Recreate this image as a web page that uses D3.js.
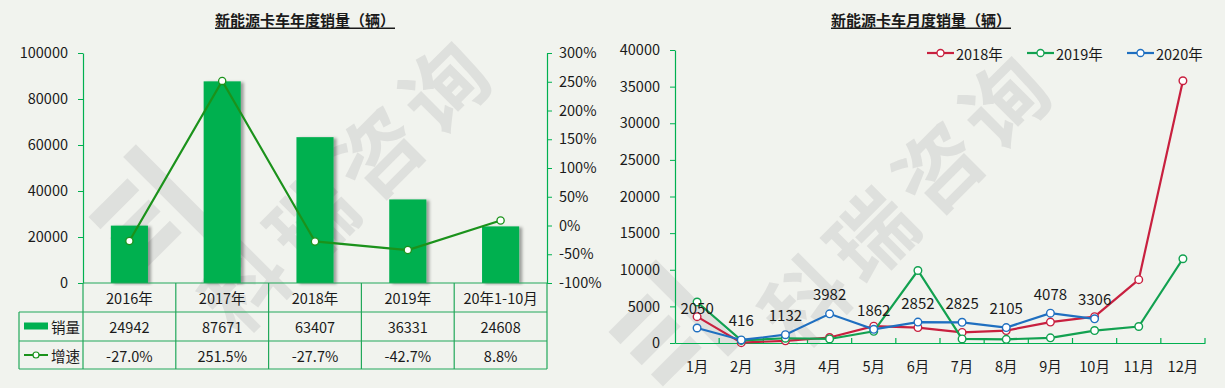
<!DOCTYPE html>
<html>
<head>
<meta charset="utf-8">
<script src="https://cdn.jsdelivr.net/npm/d3@7"></script>
<style>
  body { margin: 0; background: #f1f3ee; }
  svg { display: block; font-family: "Noto Sans CJK SC", "Noto Sans", sans-serif; }
</style>
</head>
<body>
<div id="chart"></div>
<script>
// yearly chart data
var years = ["2016年", "2017年", "2018年", "2019年", "20年1-10月"];
var sales = [24942, 87671, 63407, 36331, 24608];
var growth = [-27.0, 251.5, -27.7, -42.7, 8.8];
var salesTicks = [0, 20000, 40000, 60000, 80000, 100000];
var growthTicks = [-100, -50, 0, 50, 100, 150, 200, 250, 300];

// monthly chart data
var months = ["1月", "2月", "3月", "4月", "5月", "6月", "7月", "8月", "9月", "10月", "11月", "12月"];
var sales2018 = [3600, 50, 300, 750, 2300, 2100, 1450, 1700, 2850, 3600, 8650, 35800];
var sales2019 = [5600, 350, 650, 550, 1600, 9900, 550, 500, 700, 1700, 2250, 11500];
var sales2020 = [2050, 416, 1132, 3982, 1862, 2852, 2825, 2105, 4078, 3306];
var monthTicks = [0, 5000, 10000, 15000, 20000, 25000, 30000, 35000, 40000];
var seriesNames = ["2018年", "2019年", "2020年"];

var W = 1225, H = 388;
var green = "#00b050";
var border = "#22a85a";
var lineGreen = "#1b921b";
var textColor = "#1a1a1a";
var colors = ["#c8203f", "#12a150", "#1f6fc0"];

var svg = d3.select("#chart").append("svg")
	.attr("width", W)
	.attr("height", H);

svg.append("rect").attr("width", W).attr("height", H).attr("fill", "#f1f3ee");

// shadow for the bars
var defs = svg.append("defs");
defs.append("filter").attr("id", "barShadow")
	.attr("x", "-20%").attr("y", "-5%").attr("width", "150%").attr("height", "110%")
	.append("feDropShadow")
	.attr("dx", 3).attr("dy", 1).attr("stdDeviation", 1.5)
	.attr("flood-color", "#000").attr("flood-opacity", 0.35);

// watermark behind everything: a rough logo plus the company name
function watermark(cx, cy, lx, ly) {
	var logo = svg.append("g")
		.attr("transform", "translate(" + lx + "," + ly + ") rotate(-45)")
		.attr("fill", "#c4c4c4")
		.attr("opacity", 0.4);
	[-42, -12, 18].forEach(function (dy) {
		logo.append("rect").attr("x", -45).attr("y", dy).attr("width", 55).attr("height", 17);
	});
	logo.append("rect").attr("x", 22).attr("y", -60).attr("width", 18).attr("height", 120);

	svg.append("text")
		.attr("transform", "translate(" + cx + "," + cy + ") rotate(-45)")
		.attr("text-anchor", "middle")
		.attr("dominant-baseline", "central")
		.attr("font-size", "84px")
		.attr("font-weight", "bold")
		.attr("letter-spacing", "10px")
		.attr("fill", "#c4c4c4")
		.attr("opacity", 0.4)
		.text("科瑞咨询");
}
watermark(345, 180, 150, 215);
watermark(905, 195, 670, 330);

// ---------- left: yearly sales ----------
var left = { x0: 83, x1: 547, top: 53, bottom: 283 };
var rowY = [283, 312, 341, 369];

var xYear = d3.scaleBand()
	.domain(years)
	.range([left.x0, left.x1])
	.paddingInner(0.6)
	.paddingOuter(0.3);

var ySales = d3.scaleLinear().domain([0, 100000]).range([left.bottom, left.top]);
var yGrowth = d3.scaleLinear().domain([-100, 300]).range([left.bottom, left.top]);

svg.append("text")
	.attr("x", 305).attr("y", 19)
	.attr("text-anchor", "middle")
	.attr("dominant-baseline", "central")
	.attr("font-size", "15px")
	.attr("font-weight", "bold")
	.attr("text-decoration", "underline")
	.attr("fill", textColor)
	.text("新能源卡车年度销量（辆）");

var axL = svg.append("g")
	.attr("transform", "translate(" + left.x0 + ",0)")
	.call(d3.axisLeft(ySales).tickValues(salesTicks).tickSize(5).tickSizeOuter(0).tickPadding(10).tickFormat(d3.format("d")));

var axR = svg.append("g")
	.attr("transform", "translate(" + left.x1 + ",0)")
	.call(d3.axisRight(yGrowth).tickValues(growthTicks).tickSize(5).tickSizeOuter(0).tickPadding(7).tickFormat(d => d + "%"));

[axL, axR].forEach(function (g) {
	g.select(".domain").attr("stroke", green).attr("stroke-width", 1.2);
	g.selectAll(".tick line").attr("stroke", green);
	g.selectAll(".tick text").attr("font-size", "14.5px").attr("fill", textColor)
		.attr("font-family", "'Noto Sans CJK SC', sans-serif");
});

// bars
svg.append("g").selectAll("rect")
	.data(sales)
	.join("rect")
	.attr("x", (d, i) => xYear(years[i]))
	.attr("y", d => ySales(d))
	.attr("width", xYear.bandwidth())
	.attr("height", d => ySales(0) - ySales(d))
	.attr("fill", green)
	.attr("filter", "url(#barShadow)");

// growth line
var growthLine = d3.line()
	.x((d, i) => xYear(years[i]) + xYear.bandwidth() / 2)
	.y(d => yGrowth(d));

svg.append("path")
	.datum(growth)
	.attr("d", growthLine)
	.attr("fill", "none")
	.attr("stroke", lineGreen)
	.attr("stroke-width", 2.2);

svg.append("g").selectAll("circle")
	.data(growth)
	.join("circle")
	.attr("cx", (d, i) => xYear(years[i]) + xYear.bandwidth() / 2)
	.attr("cy", d => yGrowth(d))
	.attr("r", 3.6)
	.attr("fill", "#fff")
	.attr("stroke", lineGreen)
	.attr("stroke-width", 1.3);

// data table under the bars
var table = svg.append("g");
var step = xYear.step();
var cols = years.map((y, i) => left.x0 + i * step);
cols.push(left.x1);

function hline(x1, x2, y) {
	table.append("line").attr("x1", x1).attr("x2", x2).attr("y1", y).attr("y2", y)
		.attr("stroke", border).attr("stroke-width", 1.2);
}
function vline(x, y1, y2) {
	table.append("line").attr("x1", x).attr("x2", x).attr("y1", y1).attr("y2", y2)
		.attr("stroke", border).attr("stroke-width", 1.2);
}
hline(left.x0, left.x1, rowY[0]);
hline(19, left.x1, rowY[1]);
hline(19, left.x1, rowY[2]);
hline(19, left.x1, rowY[3]);
cols.forEach(x => vline(x, rowY[0], rowY[3]));
vline(19, rowY[1], rowY[3]);

function cellText(x, y, s) {
	table.append("text")
		.attr("x", x).attr("y", y)
		.attr("text-anchor", "middle")
		.attr("dominant-baseline", "central")
		.attr("font-size", "14.5px")
		.attr("fill", textColor)
		.text(s);
}
var rowMid = [(rowY[0] + rowY[1]) / 2, (rowY[1] + rowY[2]) / 2, (rowY[2] + rowY[3]) / 2];
years.forEach(function (y, i) {
	var cx = xYear(y) + xYear.bandwidth() / 2;
	cellText(cx, rowMid[0], y);
	cellText(cx, rowMid[1], sales[i]);
	cellText(cx, rowMid[2], growth[i].toFixed(1) + "%");
});

// legend keys in the table
table.append("rect")
	.attr("x", 24).attr("y", rowMid[1] - 4)
	.attr("width", 24).attr("height", 7)
	.attr("fill", green);
table.append("line")
	.attr("x1", 24).attr("x2", 48).attr("y1", rowMid[2]).attr("y2", rowMid[2])
	.attr("stroke", lineGreen).attr("stroke-width", 2);
table.append("circle")
	.attr("cx", 36).attr("cy", rowMid[2]).attr("r", 3)
	.attr("fill", "#fff").attr("stroke", lineGreen).attr("stroke-width", 1.2);
[["销量", rowMid[1]], ["增速", rowMid[2]]].forEach(function (d) {
	table.append("text")
		.attr("x", 51).attr("y", d[1])
		.attr("dominant-baseline", "central")
		.attr("font-size", "14.5px")
		.attr("fill", textColor)
		.text(d[0]);
});

// ---------- right: monthly sales ----------
var right = { x0: 675, x1: 1205, top: 50, bottom: 343 };

var xMonth = d3.scaleBand().domain(months).range([right.x0, right.x1]);
var yMonth = d3.scaleLinear().domain([0, 40000]).range([right.bottom, right.top]);
var mx = m => xMonth(m) + xMonth.bandwidth() / 2;

svg.append("text")
	.attr("x", 921).attr("y", 19)
	.attr("text-anchor", "middle")
	.attr("dominant-baseline", "central")
	.attr("font-size", "15px")
	.attr("font-weight", "bold")
	.attr("text-decoration", "underline")
	.attr("fill", textColor)
	.text("新能源卡车月度销量（辆）");

var ayM = svg.append("g")
	.attr("transform", "translate(" + right.x0 + ",0)")
	.call(d3.axisLeft(yMonth).tickValues(monthTicks).tickSize(5).tickSizeOuter(0).tickPadding(10).tickFormat(d3.format("d")));

var axM = svg.append("g")
	.attr("transform", "translate(0," + right.bottom + ")")
	.call(d3.axisBottom(xMonth).tickSize(0).tickSizeOuter(0).tickPadding(19));

[ayM, axM].forEach(function (g) {
	g.select(".domain").attr("stroke", green).attr("stroke-width", 1.2);
	g.selectAll(".tick line").attr("stroke", green);
	g.selectAll(".tick text").attr("font-size", "14.5px").attr("fill", textColor)
		.attr("font-family", "'Noto Sans CJK SC', sans-serif");
});

// category boundary ticks, pointing up
var bounds = months.slice(1).map(m => xMonth(m));
bounds.push(right.x1);
svg.append("g").selectAll("line")
	.data(bounds)
	.join("line")
	.attr("x1", d => d).attr("x2", d => d)
	.attr("y1", right.bottom).attr("y2", right.bottom - 5)
	.attr("stroke", green).attr("stroke-width", 1.2);

var monthLine = d3.line()
	.x((d, i) => mx(months[i]))
	.y(d => yMonth(d));

[sales2018, sales2019, sales2020].forEach(function (series, k) {
	var g = svg.append("g");
	g.append("path")
		.datum(series)
		.attr("d", monthLine)
		.attr("fill", "none")
		.attr("stroke", colors[k])
		.attr("stroke-width", 2.2);
	g.selectAll("circle")
		.data(series)
		.join("circle")
		.attr("cx", (d, i) => mx(months[i]))
		.attr("cy", d => yMonth(d))
		.attr("r", 3.8)
		.attr("fill", "#fff")
		.attr("stroke", colors[k])
		.attr("stroke-width", 1.4);
});

// value labels for 2020
svg.append("g").selectAll("text")
	.data(sales2020)
	.join("text")
	.attr("x", (d, i) => mx(months[i]))
	.attr("y", d => yMonth(d) - 20)
	.attr("text-anchor", "middle")
	.attr("dominant-baseline", "central")
	.attr("font-size", "15px")
	.attr("fill", textColor)
	.text(d => d);

// legend
var legendX = [927, 1027, 1127];
seriesNames.forEach(function (name, k) {
	var g = svg.append("g").attr("transform", "translate(" + legendX[k] + ",53)");
	g.append("line").attr("x1", 0).attr("x2", 27).attr("y1", 0).attr("y2", 0)
		.attr("stroke", colors[k]).attr("stroke-width", 2.2);
	g.append("circle").attr("cx", 13.5).attr("cy", 0).attr("r", 3.5)
		.attr("fill", "#fff").attr("stroke", colors[k]).attr("stroke-width", 1.3);
	g.append("text").attr("x", 29).attr("y", 0)
		.attr("dominant-baseline", "central")
		.attr("font-size", "14.5px")
		.attr("fill", textColor)
		.text(name);
});
</script>
</body>
</html>
